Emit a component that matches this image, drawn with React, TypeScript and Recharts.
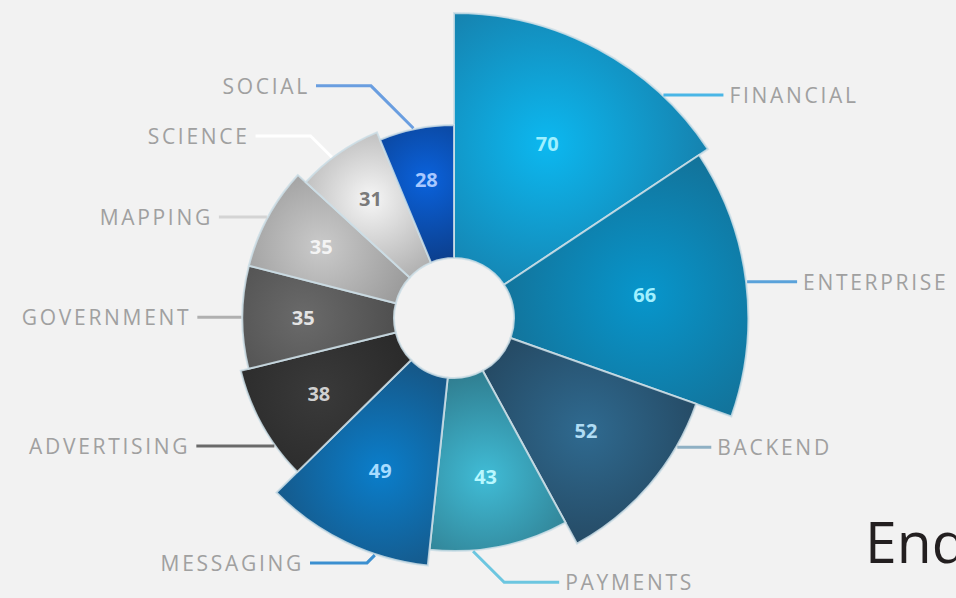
import React from 'react';
import { PieChart, Pie, Sector } from 'recharts';

// slices, clockwise from 12 o'clock
const categories = ['FINANCIAL', 'ENTERPRISE', 'BACKEND', 'PAYMENTS', 'MESSAGING', 'ADVERTISING', 'GOVERNMENT', 'MAPPING', 'SCIENCE', 'SOCIAL'];
const endpoints = [70, 66, 52, 43, 49, 38, 35, 35, 31, 28];
const titleText = 'Endpoints';

const W = 956;
const H = 598;
const CX = 454;
const CY = 318;
const INNER = 60;
// outer radius grows linearly with the value
const R_MIN = 193;
const R_MAX = 305;

const vMin = Math.min(...endpoints);
const vMax = Math.max(...endpoints);
const radiusOf = (v: number) => R_MIN + ((v - vMin) / (vMax - vMin)) * (R_MAX - R_MIN);

const palette = [
  { from: '#0cb8f0', to: '#1876a0', line: '#4ab6e6', text: '#9ff0ff' },
  { from: '#0796cc', to: '#16698c', line: '#5aa2da', text: '#a0f0ff' },
  { from: '#2f6a90', to: '#223f55', line: '#8fb0c4', text: '#b0dcf4' },
  { from: '#40bcd6', to: '#2b6a7a', line: '#6cc6e0', text: '#b8f8ff' },
  { from: '#0a7ecb', to: '#1a4a70', line: '#3b8fd0', text: '#a8dcff' },
  { from: '#3a3a3a', to: '#252525', line: '#6a6a6a', text: '#d0d0d0' },
  { from: '#6a6a6a', to: '#474747', line: '#b0b0b0', text: '#e4e4e4' },
  { from: '#cacaca', to: '#8c8c8c', line: '#d4d4d4', text: '#f4f4f4' },
  { from: '#f6f6f6', to: '#9c9c9c', line: '#ffffff', text: '#7a7a7a' },
  { from: '#0a62dc', to: '#0c3577', line: '#6a9ee0', text: '#a8c8ff' },
];

// leader tweaks: angle shift from mid angle (deg), diagonal elbow (px), horizontal length (px)
const labelLayout = [
  { shift: -15, elbow: 0, len: 60 },
  { shift: 0, elbow: 0, len: 50 },
  { shift: 10.4, elbow: 0, len: 34 },
  { shift: -6.6, elbow: 44, len: 55 },
  { shift: 7.3, elbow: 11, len: 57 },
  { shift: 6.3, elbow: 0, len: 78 },
  { shift: 0, elbow: 0, len: 44 },
  { shift: 0, elbow: 0, len: 48 },
  { shift: 2.2, elbow: 30, len: 55 },
  { shift: 0.8, elbow: 60, len: 55 },
];

const data = categories.map((name, i) => ({ name, value: endpoints[i] }));

const RAD = Math.PI / 180;

const renderSlice = (props: any) => {
  const { cx, cy, startAngle, endAngle, midAngle, index, value } = props;
  const c = palette[index];
  const lay = labelLayout[index];
  const outer = radiusOf(value);
  const pt = (r: number, a: number) => ({ x: cx + r * Math.cos(-a * RAD), y: cy + r * Math.sin(-a * RAD) });

  const valR = (INNER + outer) / 2 + 15;
  const vp = pt(valR, midAngle);

  const a = midAngle + lay.shift;
  const p = pt(outer + 1, a);
  const side = Math.cos(a * RAD) >= 0 ? 1 : -1;
  const up = Math.sin(a * RAD) >= 0 ? -1 : 1;
  const e = { x: p.x + side * lay.elbow * 0.7071, y: p.y + up * lay.elbow * 0.7071 };
  const hx = e.x + side * lay.len;

  return (
    <g key={`slice-${index}`}>
      <defs>
        <radialGradient id={`grad-${index}`} gradientUnits="userSpaceOnUse" cx={vp.x} cy={vp.y} r={(outer - INNER) * 0.8}>
          <stop offset="0%" stopColor={c.from} />
          <stop offset="100%" stopColor={c.to} />
        </radialGradient>
      </defs>
      <Sector
        cx={cx}
        cy={cy}
        innerRadius={INNER}
        outerRadius={outer}
        startAngle={startAngle}
        endAngle={endAngle}
        fill={`url(#grad-${index})`}
        stroke="rgba(205,222,230,0.85)"
        strokeWidth={2}
      />
      <polyline points={`${p.x},${p.y} ${e.x},${e.y} ${hx},${e.y}`} fill="none" stroke={c.line} strokeWidth={3} />
      <text
        x={hx + side * 6}
        y={e.y}
        textAnchor={side > 0 ? 'start' : 'end'}
        dominantBaseline="central"
        fontFamily="'Open Sans', sans-serif"
        fontSize={21}
        letterSpacing={2.7}
        fill="#a0a0a0"
      >
        {categories[index]}
      </text>
      <text
        x={vp.x}
        y={vp.y}
        textAnchor="middle"
        dominantBaseline="central"
        fontFamily="'Open Sans', sans-serif"
        fontWeight={700}
        fontSize={20}
        fill={c.text}
      >
        {value}
      </text>
    </g>
  );
};

export default function App() {
  return (
    <div style={{ position: 'fixed', left: 0, top: 0, width: W, height: H, background: '#f2f2f2', overflow: 'hidden' }}>
      <PieChart width={W} height={H} margin={{ top: 0, right: 0, bottom: 0, left: 0 }}>
        <Pie
          data={data}
          dataKey="value"
          nameKey="name"
          cx={CX}
          cy={CY}
          innerRadius={INNER}
          outerRadius={R_MAX}
          startAngle={90}
          endAngle={-270}
          fill="none"
          stroke="none"
          label={renderSlice}
          labelLine={false}
          isAnimationActive={false}
        />
      </PieChart>
      <svg width={W} height={H} style={{ position: 'absolute', left: 0, top: 0, pointerEvents: 'none' }}>
        <text x={865} y={563} fontFamily="'Open Sans', sans-serif" fontSize={57} fill="#231f20">
          {titleText}
        </text>
      </svg>
    </div>
  );
}
